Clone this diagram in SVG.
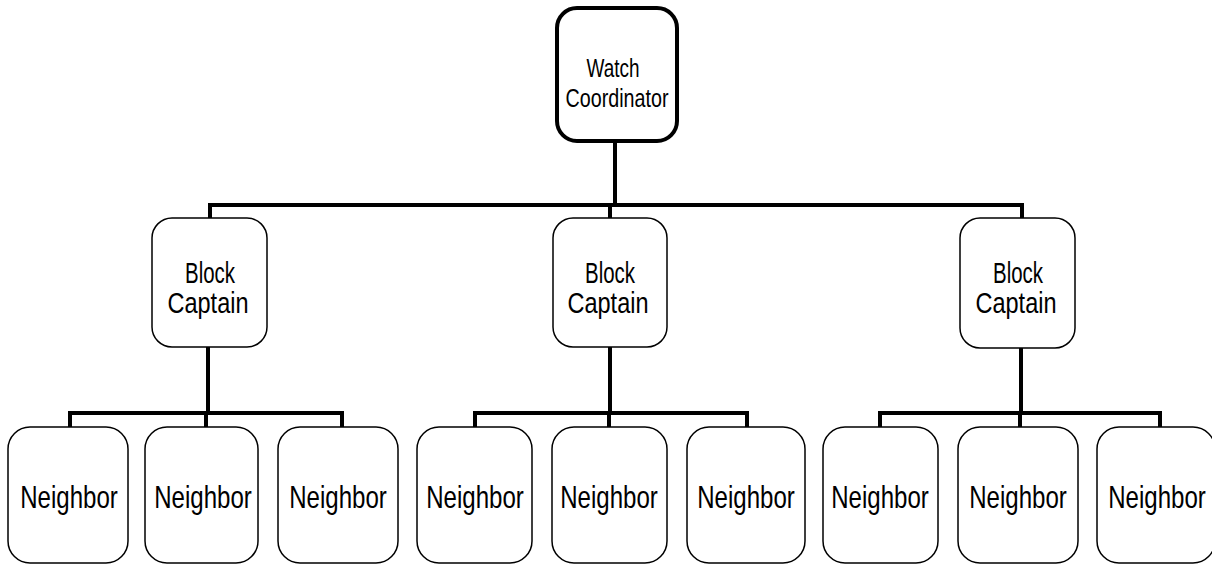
<svg xmlns="http://www.w3.org/2000/svg" width="1212" height="565" viewBox="0 0 1212 565">
<style>
.box{fill:#fff;stroke:#000;stroke-width:1.5}
.top{fill:#fff;stroke:#000;stroke-width:4}
.conn{fill:none;stroke:#000;stroke-width:4}
text{font-family:"Liberation Sans",Arial,sans-serif;fill:#000;text-anchor:middle}
.t1{font-size:25px}
.t2{font-size:29px}
.t3{font-size:31px}
</style>
<rect width="1212" height="565" fill="#fff"/>
<g id="connectors">
<path class="conn" d="M615 141V205M210 218V205H1022V218M610 205V218"/>
<path class="conn" d="M208 347V413M70 427V413H342V427M206 413V427"/>
<path class="conn" d="M610 347V413M475 427V413H747V427M609 413V427"/>
<path class="conn" d="M1021 347V413M880 427V413H1160V427M1020 413V427"/>
</g>
<g id="coordinator">
<rect class="top" x="557" y="8" width="120" height="133" rx="20"/>
<text class="t1" x="613" y="77" textLength="53" lengthAdjust="spacingAndGlyphs">Watch</text>
<text class="t1" x="617" y="107" textLength="103" lengthAdjust="spacingAndGlyphs">Coordinator</text>
</g>
<g id="captain1">
<rect class="box" x="152" y="218" width="115" height="129" rx="20"/>
<text class="t2" x="210" y="283" textLength="50" lengthAdjust="spacingAndGlyphs">Block</text>
<text class="t2" x="208" y="313" textLength="81" lengthAdjust="spacingAndGlyphs">Captain</text>
</g>
<g id="captain2">
<rect class="box" x="553" y="218" width="114" height="129" rx="20"/>
<text class="t2" x="610" y="283" textLength="50" lengthAdjust="spacingAndGlyphs">Block</text>
<text class="t2" x="608" y="313" textLength="81" lengthAdjust="spacingAndGlyphs">Captain</text>
</g>
<g id="captain3">
<rect class="box" x="960" y="218" width="115" height="130" rx="20"/>
<text class="t2" x="1018" y="283" textLength="50" lengthAdjust="spacingAndGlyphs">Block</text>
<text class="t2" x="1016" y="313" textLength="81" lengthAdjust="spacingAndGlyphs">Captain</text>
</g>
<g id="neighbor1"><rect class="box" x="8" y="427" width="120" height="136" rx="22"/><text class="t3" transform="translate(69 508) scale(0.776 1)">Neighbor</text></g>
<g id="neighbor2"><rect class="box" x="145" y="427" width="113" height="136" rx="22"/><text class="t3" transform="translate(203 508) scale(0.776 1)">Neighbor</text></g>
<g id="neighbor3"><rect class="box" x="278" y="427" width="120" height="136" rx="22"/><text class="t3" transform="translate(338 508) scale(0.776 1)">Neighbor</text></g>
<g id="neighbor4"><rect class="box" x="417" y="427" width="115" height="136" rx="22"/><text class="t3" transform="translate(475 508) scale(0.776 1)">Neighbor</text></g>
<g id="neighbor5"><rect class="box" x="552" y="427" width="115" height="136" rx="22"/><text class="t3" transform="translate(609 508) scale(0.776 1)">Neighbor</text></g>
<g id="neighbor6"><rect class="box" x="687" y="427" width="118" height="136" rx="22"/><text class="t3" transform="translate(746 508) scale(0.776 1)">Neighbor</text></g>
<g id="neighbor7"><rect class="box" x="823" y="427" width="115" height="136" rx="22"/><text class="t3" transform="translate(880 508) scale(0.776 1)">Neighbor</text></g>
<g id="neighbor8"><rect class="box" x="958" y="427" width="120" height="136" rx="22"/><text class="t3" transform="translate(1018 508) scale(0.776 1)">Neighbor</text></g>
<g id="neighbor9"><rect class="box" x="1097" y="427" width="118" height="136" rx="22"/><text class="t3" transform="translate(1157 508) scale(0.776 1)">Neighbor</text></g>
</svg>
